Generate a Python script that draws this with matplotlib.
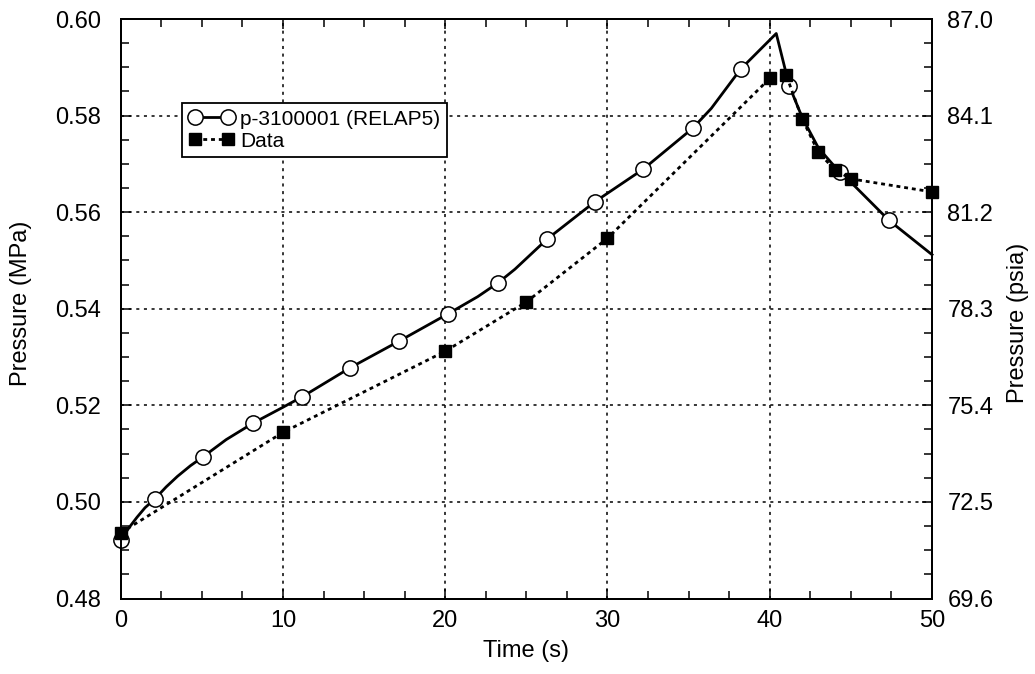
import numpy as np
import matplotlib
matplotlib.use("Agg")
import matplotlib.pyplot as plt
from matplotlib.ticker import MultipleLocator, FixedLocator

plt.rcParams['font.family'] = ['Liberation Sans', 'DejaVu Sans']

# RELAP5 calculation (p-3100001)
relap_t = [0.0, 0.5, 1.0, 1.5, 2.1, 2.8, 3.5, 4.3, 5.1, 6.5, 8.15, 10.0, 11.2,
           14.15, 17.16, 20.2, 22.0, 23.27, 24.3, 26.27, 29.2, 32.2, 35.26, 36.4,
           38.2, 40.4, 41.2, 42.0, 43.0, 44.3, 45.0, 47.35, 50.0]
relap_p = [0.4921, 0.4946, 0.4968, 0.4988, 0.5006, 0.5031, 0.5053, 0.5075, 0.5094,
           0.5129, 0.5163, 0.5196, 0.5218, 0.5278, 0.5333, 0.5390, 0.5425, 0.5454,
           0.5482, 0.5544, 0.5621, 0.5689, 0.5774, 0.5815, 0.5896, 0.5970, 0.5862,
           0.5796, 0.5733, 0.5683, 0.5662, 0.5583, 0.5512]
# times where the open circle symbols sit on the curve
circle_t = [0.0, 2.1, 5.1, 8.15, 11.2, 14.15, 17.16, 20.2, 23.27, 26.27, 29.2,
            32.2, 35.26, 38.2, 41.2, 44.3, 47.35]

# measured data
data_t = [0, 10, 20, 25, 30, 40, 41, 42, 43, 44, 45, 50]
data_p = [0.4936, 0.5144, 0.5312, 0.5414, 0.5546, 0.5877, 0.5885, 0.5793,
          0.5724, 0.5688, 0.5669, 0.5642]

mpa_ticks = [0.48, 0.50, 0.52, 0.54, 0.56, 0.58, 0.60]
MPA_TO_PSI = 145.0377

fs = 17

fig = plt.figure(figsize=(10.35, 6.74), dpi=100)
ax = fig.add_axes([0.1166, 0.112, 0.7839, 0.8598])

marks = [relap_t.index(t) for t in circle_t]
ax.plot(relap_t, relap_p, color='black', lw=2.0, marker='o', markersize=11,
        markerfacecolor='white', markeredgecolor='black', markeredgewidth=1.1,
        markevery=marks, clip_on=False, zorder=3, label='p-3100001 (RELAP5)')
ax.plot(data_t, data_p, color='black', lw=2.0, linestyle=(0, (1.4, 1.4)),
        marker='s', markersize=8, markerfacecolor='black', markeredgecolor='black',
        clip_on=False, zorder=4, label='Data')

ax.set_xlim(0, 50)
ax.set_ylim(0.48, 0.60)
ax.set_xticks(range(0, 51, 10))
ax.xaxis.set_minor_locator(MultipleLocator(2.5))
ax.set_yticks(mpa_ticks)
ax.set_yticklabels(['%.2f' % v for v in mpa_ticks])
ax.yaxis.set_minor_locator(MultipleLocator(0.005))
ax.tick_params(which='both', direction='in', top=True, labelsize=fs, width=1.1)
ax.tick_params(which='major', length=7)
ax.tick_params(which='minor', length=6)
ax.tick_params(axis='y', pad=14)
ax.tick_params(axis='x', pad=8)
ax.grid(which='major', color='black', linestyle=(0, (2, 3)), linewidth=1.1)
for s in ax.spines.values():
    s.set_linewidth(1.4)

ax.set_xlabel('Time (s)', fontsize=fs)
ax.xaxis.set_label_coords(0.5, -0.072)
ax.set_ylabel('Pressure (MPa)', fontsize=fs)
ax.yaxis.set_label_coords(-0.109, 0.51)

ax2 = ax.twinx()
ax2.set_ylim(0.48 * MPA_TO_PSI, 0.60 * MPA_TO_PSI)
ax2.set_yticks([v * MPA_TO_PSI for v in mpa_ticks])
ax2.set_yticklabels(['%.1f' % (v * MPA_TO_PSI) for v in mpa_ticks])
ax2.yaxis.set_minor_locator(FixedLocator(np.arange(0.48, 0.6001, 0.005) * MPA_TO_PSI))
ax2.tick_params(which='both', direction='in', labelsize=fs, width=1.1)
ax2.tick_params(which='major', length=7, pad=11)
ax2.tick_params(which='minor', length=6)
ax2.set_ylabel('Pressure (psia)', fontsize=fs)
ax2.yaxis.set_label_coords(1.093, 0.475)
for s in ax2.spines.values():
    s.set_linewidth(1.4)

leg = ax.legend(loc='lower left', bbox_to_anchor=(0.0756, 0.762), borderaxespad=0,
                fontsize=15, numpoints=2, handlelength=2.2, handletextpad=0.3,
                labelspacing=0.15, borderpad=0.3, fancybox=False, framealpha=1,
                edgecolor='black')
leg.get_frame().set_linewidth(1.3)

fig.savefig('out.png', dpi=100)
